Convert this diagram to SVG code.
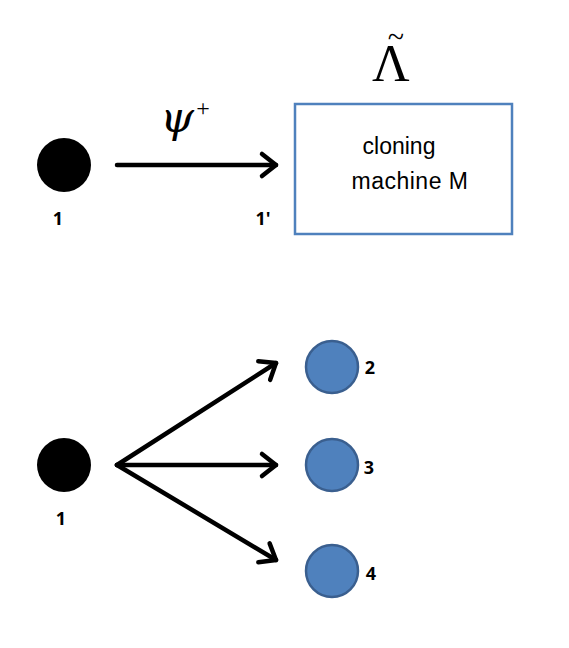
<svg xmlns="http://www.w3.org/2000/svg" width="569" height="648" viewBox="0 0 569 648">
<defs>
<marker id="ah" markerUnits="userSpaceOnUse" markerWidth="30" markerHeight="30" refX="25" refY="15" orient="auto" viewBox="0 0 30 30">
<path d="M11 4 L25 15 L11 26" fill="none" stroke="#000" stroke-width="4.5" stroke-linecap="round" stroke-linejoin="round"/>
</marker>
</defs>
<style>
.blk{fill:#000}
.blue{fill:#4f81bd;stroke:#3a5f8f;stroke-width:2.5}
.lbl{font-family:"Open Sans","Liberation Sans",sans-serif;font-weight:bold;font-size:18px;fill:#000}
.txt{font-family:"Liberation Sans",sans-serif;font-size:23px;fill:#000}
.conn{stroke:#000;stroke-width:4.5;fill:none;stroke-linecap:round;marker-end:url(#ah)}
</style>
<rect width="569" height="648" fill="#fff"/>
<g id="node-top1">
<circle class="blk" cx="64" cy="165" r="27"/>
<text class="lbl" x="58" y="225" text-anchor="middle">1</text>
</g>
<g id="node-machine">
<rect x="295" y="104" width="217" height="130" fill="#fff" stroke="#4f81bd" stroke-width="2.5"/>
<text class="txt" x="399" y="154" text-anchor="middle">cloning</text>
<text class="txt" x="410" y="189" text-anchor="middle" letter-spacing="0.5">machine M</text>
<text x="372" y="81" font-family="Liberation Serif,serif" font-size="52">Λ<tspan dx="-22" dy="-34" font-size="30">~</tspan></text>
</g>
<g id="label-1prime">
<text class="lbl" x="263" y="225" text-anchor="middle">1'</text>
</g>
<g id="label-psi">
<text x="177" y="132" text-anchor="middle" font-family="DejaVu Serif,serif" font-style="italic" font-size="43">ψ</text>
<text x="203" y="116" text-anchor="middle" font-family="Liberation Serif,serif" font-size="24">+</text>
</g>
<g id="node-bot1">
<circle class="blk" cx="64" cy="465" r="27"/>
<text class="lbl" x="61" y="525" text-anchor="middle">1</text>
</g>
<g id="node-2">
<circle class="blue" cx="332" cy="367" r="26"/>
<text class="lbl" x="370" y="374" text-anchor="middle">2</text>
</g>
<g id="node-3">
<circle class="blue" cx="332" cy="465" r="26"/>
<text class="lbl" x="369" y="474" text-anchor="middle">3</text>
</g>
<g id="node-4">
<circle class="blue" cx="332" cy="571" r="26"/>
<text class="lbl" x="371" y="580" text-anchor="middle">4</text>
</g>
<g id="connectors">
<line class="conn" x1="117" y1="165" x2="276" y2="165"/>
<line class="conn" x1="117" y1="465" x2="276" y2="363"/>
<line class="conn" x1="117" y1="465" x2="276" y2="465"/>
<line class="conn" x1="117" y1="465" x2="276" y2="560"/>
</g>
</svg>
